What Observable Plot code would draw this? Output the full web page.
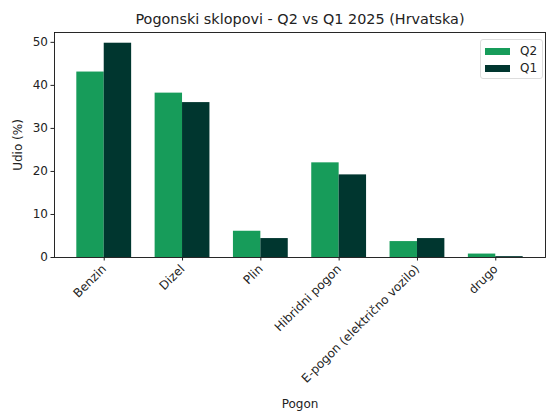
<!DOCTYPE html>
<html>
<head>
<meta charset="utf-8">
<script src="https://cdn.jsdelivr.net/npm/d3@7"></script>
<script src="https://cdn.jsdelivr.net/npm/@observablehq/plot@0.6"></script>
<style>
  html, body { margin: 0; padding: 0; background: #fff; }
  #wrap { position: relative; width: 560px; height: 420px; font-family: "DejaVu Sans", sans-serif; color: #222; }
  #title { position: absolute; left: 0; top: 10px; width: 600px; text-align: center; font-size: 14.4px; line-height: 18px; }
  #chart { position: absolute; left: 0; top: 30px; }
  #legend { position: absolute; left: 480px; top: 39px; width: 61px; height: 38px; border: 1px solid #ddd; border-radius: 3px; background: rgba(255,255,255,0.8); font-size: 12px; }
  .item { position: absolute; left: 4px; height: 14px; display: flex; align-items: center; }
  .sw { width: 25px; height: 7px; margin-right: 10px; }
</style>
</head>
<body>
<div id="wrap">
  <div id="title"></div>
  <div id="chart"></div>
  <div id="legend"></div>
</div>
<script>
const titleText = "Pogonski sklopovi - Q2 vs Q1 2025 (Hrvatska)";
const categories = ["Benzin", "Dizel", "Plin", "Hibridni pogon", "E-pogon (električno vozilo)", "drugo"];
const q2 = [43.1, 38.2, 6.1, 22.0, 3.7, 0.8];
const q1 = [49.8, 36.0, 4.4, 19.2, 4.4, 0.2];
const seriesNames = ["Q2", "Q1"];
const seriesColors = ["#179c5a", "#00362f"];
const yTicks = [0, 10, 20, 30, 40, 50];
const xLabel = "Pogon";
const yLabel = "Udio (%)";

const barW = 0.35;
const seriesValues = [q2, q1];
const rows = categories.flatMap((c, i) =>
  seriesNames.map((s, k) => ({ i, cat: c, series: s, k, value: seriesValues[k][i] }))
);
const yMax = d3.max(rows, d => d.value) * 1.05;
const xPad = (categories.length - 1 + 2 * barW) * 0.05;

document.getElementById("title").textContent = titleText;

const chart = Plot.plot({
  width: 560,
  height: 390,
  marginTop: 2,
  marginLeft: 54,
  marginRight: 15,
  marginBottom: 163,
  style: { fontFamily: "DejaVu Sans, sans-serif", fontSize: "12px", color: "#222", background: "#fff" },
  x: { type: "linear", domain: [-barW - xPad, categories.length - 1 + barW + xPad] },
  y: { domain: [0, yMax] },
  color: { domain: seriesNames, range: seriesColors },
  marks: [
    Plot.rectY(rows, {
      x1: d => d.i + (d.k - 1) * barW,
      x2: d => d.i + d.k * barW,
      y: "value",
      fill: "series"
    }),
    Plot.frame({ stroke: "#111", strokeWidth: 0.9 }),
    Plot.axisY({ ticks: yTicks, tickSize: 3.5, tickPadding: 3, fontSize: 12, label: yLabel, labelAnchor: "center", labelOffset: 41, labelArrow: "none" }),
    Plot.axisX({ ticks: d3.range(categories.length), tickFormat: i => categories[i], tickRotate: -45, tickSize: 3.5, tickPadding: 6, fontSize: 12, label: xLabel, labelAnchor: "center", labelOffset: 150, labelArrow: "none" })
  ]
});
document.getElementById("chart").appendChild(chart);

const legend = document.getElementById("legend");
seriesNames.forEach((s, k) => {
  const it = document.createElement("div");
  it.className = "item";
  it.style.top = (4 + k * 17) + "px";
  const sw = document.createElement("span");
  sw.className = "sw";
  sw.style.background = seriesColors[k];
  const t = document.createElement("span");
  t.textContent = s;
  it.appendChild(sw); it.appendChild(t);
  legend.appendChild(it);
});
</script>
</body>
</html>
